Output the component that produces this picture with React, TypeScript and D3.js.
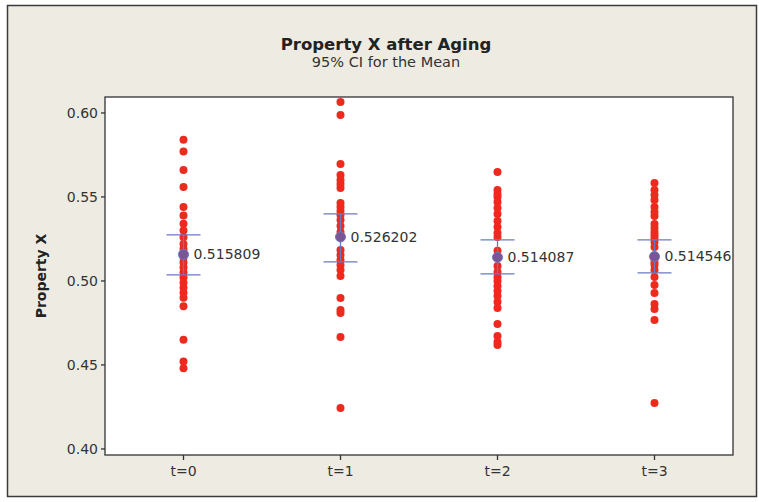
import React, { useEffect, useRef } from "react";
import * as d3 from "d3";

const groups = ["t=0", "t=1", "t=2", "t=3"];

const valuesT0 = [0.584, 0.577, 0.566, 0.556, 0.544, 0.539, 0.534, 0.530, 0.526, 0.522, 0.519, 0.514, 0.511, 0.508, 0.505, 0.502, 0.499, 0.496, 0.493, 0.490, 0.485, 0.465, 0.452, 0.448];
const valuesT1 = [0.6065, 0.5988, 0.5696, 0.5631, 0.5601, 0.5577, 0.5554, 0.5464, 0.544, 0.5417, 0.5393, 0.5363, 0.5327, 0.5292, 0.5185, 0.5155, 0.5125, 0.5095, 0.5065, 0.503, 0.4899, 0.4827, 0.481, 0.4667, 0.4244];
const valuesT2 = [0.5649, 0.5542, 0.5518, 0.55, 0.547, 0.5435, 0.5399, 0.5357, 0.5321, 0.5286, 0.5262, 0.518, 0.514, 0.5089, 0.5054, 0.5024, 0.5, 0.497, 0.494, 0.4911, 0.4875, 0.4839, 0.4744, 0.4673, 0.4637, 0.4619];
const valuesT3 = [0.5583, 0.5542, 0.5512, 0.5482, 0.544, 0.5411, 0.5387, 0.5339, 0.5315, 0.5292, 0.5274, 0.5256, 0.5232, 0.5202, 0.513, 0.511, 0.5095, 0.5065, 0.5024, 0.4976, 0.4929, 0.4863, 0.4833, 0.4768, 0.4274];
const allValues = [valuesT0, valuesT1, valuesT2, valuesT3];

const means = [0.515809, 0.526202, 0.514087, 0.514546];
const ciLow = [0.5036, 0.5113, 0.5042, 0.5048];
const ciHigh = [0.5274, 0.5399, 0.5244, 0.5244];

const yTicks = [0.40, 0.45, 0.50, 0.55, 0.60];

const App = () => {
  const ref = useRef<SVGSVGElement>(null);

  const width = 759;
  const height = 502;
  const plot = { left: 105, right: 733, top: 97, bottom: 455 };
  const font = "'DejaVu Sans', sans-serif";

  useEffect(() => {
    const svg = d3.select(ref.current);
    svg.selectAll("*").remove();

    const x = d3.scaleLinear().domain([-0.5, 3.5]).range([plot.left, plot.right]);
    const y = d3.scaleLinear().domain([0.3964, 0.6095]).range([plot.bottom, plot.top]);

    svg.append("rect").attr("width", width).attr("height", height).attr("fill", "#ffffff");
    svg.append("rect")
      .attr("x", 7.5).attr("y", 5.5)
      .attr("width", 749).attr("height", 491)
      .attr("fill", "#eeebe3")
      .attr("stroke", "#3a3a3a")
      .attr("stroke-width", 1.5);

    svg.append("rect")
      .attr("x", plot.left).attr("y", plot.top)
      .attr("width", plot.right - plot.left).attr("height", plot.bottom - plot.top)
      .attr("fill", "#ffffff")
      .attr("stroke", "#333")
      .attr("stroke-width", 1.3);

    // titles
    svg.append("text")
      .attr("x", 386).attr("y", 50)
      .attr("text-anchor", "middle")
      .style("font-family", font).style("font-weight", "bold").style("font-size", "16.5px")
      .attr("fill", "#222")
      .text("Property X after Aging");
    svg.append("text")
      .attr("x", 386).attr("y", 67)
      .attr("text-anchor", "middle")
      .style("font-family", font).style("font-size", "14.5px")
      .attr("fill", "#333")
      .text("95% CI for the Mean");

    // y axis
    const yAxis = svg.append("g");
    yAxis.selectAll("line").data(yTicks).enter().append("line")
      .attr("x1", plot.left - 4).attr("x2", plot.left)
      .attr("y1", (d) => y(d)).attr("y2", (d) => y(d))
      .attr("stroke", "#333").attr("stroke-width", 1.3);
    yAxis.selectAll("text").data(yTicks).enter().append("text")
      .attr("x", plot.left - 7).attr("y", (d) => y(d))
      .attr("dy", "0.35em")
      .attr("text-anchor", "end")
      .style("font-family", font).style("font-size", "14px")
      .attr("fill", "#333")
      .text((d) => d3.format(".2f")(d));

    svg.append("text")
      .attr("transform", `translate(46,${(plot.top + plot.bottom) / 2}) rotate(-90)`)
      .attr("text-anchor", "middle")
      .style("font-family", font).style("font-weight", "bold").style("font-size", "14px")
      .attr("fill", "#222")
      .text("Property X");

    // x axis
    const xAxis = svg.append("g");
    xAxis.selectAll("line").data(groups).enter().append("line")
      .attr("x1", (d, i) => x(i)).attr("x2", (d, i) => x(i))
      .attr("y1", plot.bottom).attr("y2", plot.bottom + 5)
      .attr("stroke", "#333").attr("stroke-width", 1.3);
    xAxis.selectAll("text").data(groups).enter().append("text")
      .attr("x", (d, i) => x(i)).attr("y", plot.bottom + 21)
      .attr("text-anchor", "middle")
      .style("font-family", font).style("font-size", "14px")
      .attr("fill", "#333")
      .text((d) => d);

    // individual values
    allValues.forEach((vals, i) => {
      svg.append("g").selectAll("circle").data(vals).enter().append("circle")
        .attr("cx", x(i)).attr("cy", (d) => y(d))
        .attr("r", 4)
        .attr("fill", "#ee2a1e");
    });

    // CI intervals and means
    groups.forEach((g, i) => {
      const cx = x(i);
      const ci = svg.append("g").attr("stroke", "#6a78c4").attr("stroke-width", 1.3);
      ci.append("line").attr("x1", cx).attr("x2", cx).attr("y1", y(ciLow[i])).attr("y2", y(ciHigh[i]));
      ci.append("line").attr("x1", cx - 17).attr("x2", cx + 17).attr("y1", y(ciLow[i])).attr("y2", y(ciLow[i]));
      ci.append("line").attr("x1", cx - 17).attr("x2", cx + 17).attr("y1", y(ciHigh[i])).attr("y2", y(ciHigh[i]));

      svg.append("circle")
        .attr("cx", cx).attr("cy", y(means[i]))
        .attr("r", 5)
        .attr("fill", "#7a5596")
        .attr("stroke", "#6a78c4")
        .attr("stroke-width", 1);

      svg.append("text")
        .attr("x", cx + 10).attr("y", y(means[i]))
        .attr("dy", "0.35em")
        .style("font-family", font).style("font-size", "14px")
        .attr("fill", "#333")
        .text(d3.format(".6f")(means[i]));
    });
  }, []);

  return (
    <div style={{ position: "absolute", left: 0, top: 0 }}>
      <svg ref={ref} width={width} height={height}></svg>
    </div>
  );
};

export default App;
